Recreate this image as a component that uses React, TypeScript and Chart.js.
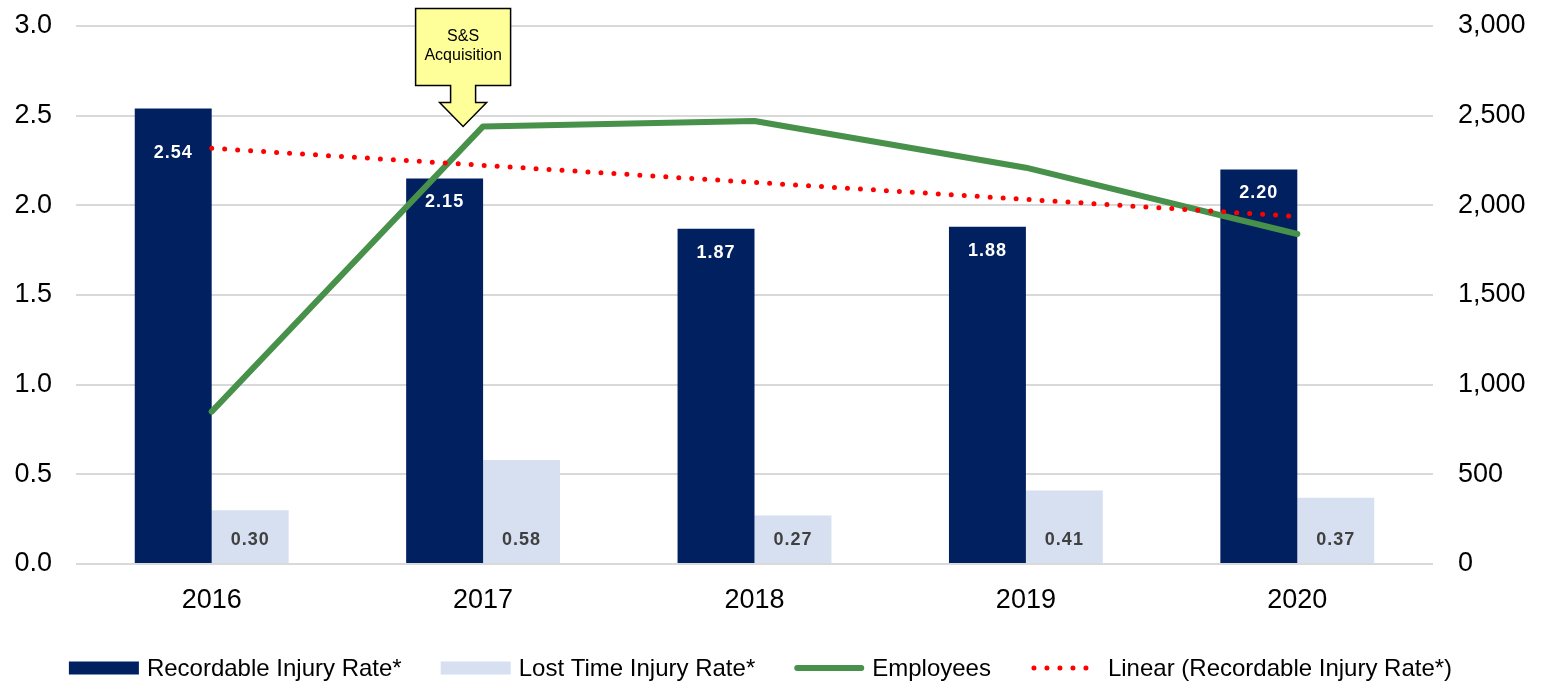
import React, { useEffect, useRef } from "react";
import { Chart, registerables } from "chart.js";

Chart.register(...registerables);

// ---- data ----
const years = ["2016", "2017", "2018", "2019", "2020"];
const recordableRate = [2.54, 2.15, 1.87, 1.88, 2.2];
const lostTimeRate = [0.3, 0.58, 0.27, 0.41, 0.37];
const employees = [850, 2440, 2470, 2210, 1840];
const recordableTrend = [2.318, 2.223, 2.128, 2.033, 1.938];
const calloutLines = ["S&S", "Acquisition"];
const calloutYearIndex = 1;

const FONT = "'Liberation Sans', Arial, Helvetica, sans-serif";
const NAVY = "#002060";
const LIGHT = "#D6E0F0";
const GREEN = "#47914A";
const RED = "#FF0000";

const labelPlugin = {
  id: "barValueLabels",
  afterDatasetsDraw(chart: any) {
    const ctx = chart.ctx;
    ctx.save();
    ctx.font = `bold 18px ${FONT}`;
    try { (ctx as any).letterSpacing = "1px"; } catch (e) {}
    ctx.textAlign = "center";
    ctx.textBaseline = "middle";
    const m0 = chart.getDatasetMeta(0);
    m0.data.forEach((bar: any, i: number) => {
      const dy = i === 0 ? 45 : 24;
      ctx.fillStyle = "#FFFFFF";
      ctx.fillText(recordableRate[i].toFixed(2), bar.x, bar.y + dy);
    });
    const m1 = chart.getDatasetMeta(1);
    m1.data.forEach((bar: any, i: number) => {
      ctx.fillStyle = "#404040";
      ctx.fillText(lostTimeRate[i].toFixed(2), bar.x, bar.base - 23);
    });
    ctx.restore();
  },
};

const calloutPlugin = {
  id: "acquisitionCallout",
  afterDraw(chart: any) {
    const ctx = chart.ctx;
    const tipX = chart.scales.x.getPixelForValue(calloutYearIndex) - 20;
    const tipY = chart.scales.y1.getPixelForValue(employees[calloutYearIndex]);
    const halfW = 47.5;
    const top = tipY - 118;
    const bottom = tipY - 41;
    const shaft = 12.5;
    const head = 23.5;
    const headTop = tipY - 24;
    ctx.save();
    ctx.beginPath();
    ctx.moveTo(tipX - halfW, top);
    ctx.lineTo(tipX + halfW, top);
    ctx.lineTo(tipX + halfW, bottom);
    ctx.lineTo(tipX + shaft, bottom);
    ctx.lineTo(tipX + shaft, headTop);
    ctx.lineTo(tipX + head, headTop);
    ctx.lineTo(tipX, tipY);
    ctx.lineTo(tipX - head, headTop);
    ctx.lineTo(tipX - shaft, headTop);
    ctx.lineTo(tipX - shaft, bottom);
    ctx.lineTo(tipX - halfW, bottom);
    ctx.closePath();
    ctx.fillStyle = "#FFFF99";
    ctx.fill();
    ctx.lineWidth = 1.5;
    ctx.strokeStyle = "#000000";
    ctx.lineJoin = "miter";
    ctx.stroke();
    ctx.fillStyle = "#000000";
    ctx.font = `16px ${FONT}`;
    ctx.textAlign = "center";
    ctx.textBaseline = "middle";
    ctx.fillText(calloutLines[0], tipX, tipY - 90);
    ctx.fillText(calloutLines[1], tipX, tipY - 71);
    ctx.restore();
  },
};

const legendPlugin = {
  id: "bottomLegend",
  afterDraw(chart: any) {
    const ctx = chart.ctx;
    const datasets = chart.data.datasets;
    const boxW = 70;
    const gapText = 8;
    const gapItem = 39;
    ctx.save();
    ctx.font = `24px ${FONT}`;
    ctx.textBaseline = "middle";
    ctx.textAlign = "left";
    const widths = datasets.map((d: any) => boxW + gapText + ctx.measureText(d.label).width);
    const total = widths.reduce((a: number, b: number) => a + b, 0) + gapItem * (datasets.length - 1);
    let x = chart.width / 2 - 10 - total / 2;
    const y = chart.height - 16;
    datasets.forEach((d: any, i: number) => {
      if (d.type === "bar") {
        ctx.fillStyle = d.backgroundColor;
        ctx.fillRect(x, y - 6.5, boxW, 13);
      } else {
        ctx.beginPath();
        ctx.strokeStyle = d.borderColor;
        ctx.lineCap = "round";
        if (d.borderDash && d.borderDash.length) {
          ctx.lineWidth = 5;
          ctx.setLineDash([0, 13]);
          ctx.moveTo(x + 4, y);
          ctx.lineTo(x + boxW - 2, y);
        } else {
          ctx.lineWidth = 6;
          ctx.setLineDash([]);
          ctx.moveTo(x + 3, y);
          ctx.lineTo(x + boxW - 3, y);
        }
        ctx.stroke();
        ctx.setLineDash([]);
      }
      ctx.fillStyle = "#000000";
      ctx.fillText(d.label, x + boxW + gapText, y + 1);
      x += widths[i] + gapItem;
    });
    ctx.restore();
  },
};

export default function App() {
  const canvasRef = useRef<HTMLCanvasElement | null>(null);

  useEffect(() => {
    if (!canvasRef.current) return;
    const chart = new Chart(canvasRef.current, {
      type: "bar",
      data: {
        labels: years,
        datasets: [
          {
            type: "bar",
            label: "Recordable Injury Rate*",
            data: recordableRate,
            backgroundColor: NAVY,
            yAxisID: "y",
            order: 3,
            barPercentage: 1,
            categoryPercentage: 0.567,
          },
          {
            type: "bar",
            label: "Lost Time Injury Rate*",
            data: lostTimeRate,
            backgroundColor: LIGHT,
            yAxisID: "y",
            order: 3,
            barPercentage: 1,
            categoryPercentage: 0.567,
          },
          {
            type: "line",
            label: "Employees",
            data: employees,
            borderColor: GREEN,
            backgroundColor: GREEN,
            borderWidth: 6,
            borderCapStyle: "round",
            borderJoinStyle: "round",
            pointRadius: 0,
            tension: 0,
            yAxisID: "y1",
            order: 1,
          },
          {
            type: "line",
            label: "Linear (Recordable Injury Rate*)",
            data: recordableTrend,
            borderColor: RED,
            backgroundColor: RED,
            borderWidth: 5,
            borderDash: [0, 13],
            borderCapStyle: "round",
            pointRadius: 0,
            tension: 0,
            yAxisID: "y",
            order: 0,
          },
        ],
      } as any,
      options: {
        responsive: false,
        animation: false,
        layout: { padding: { top: 26, left: 0, right: 0, bottom: 69 } },
        plugins: {
          tooltip: { enabled: false },
          legend: { display: false },
        },
        scales: {
          x: {
            grid: { display: false, drawTicks: false },
            border: { display: false },
            ticks: { color: "#000000", font: { size: 27, family: FONT }, padding: 20 },
            afterFit: (scale: any) => {
              scale.height = 51;
              scale.paddingLeft = 0;
              scale.paddingRight = 0;
            },
          },
          y: {
            position: "left",
            min: 0,
            max: 3,
            grid: { color: "#D9D9D9", lineWidth: 2, drawTicks: false },
            border: { display: false },
            ticks: {
              stepSize: 0.5,
              color: "#000000",
              font: { size: 27, family: FONT },
              padding: 24,
              callback: (v: any) => Number(v).toFixed(1),
            },
            afterFit: (scale: any) => {
              scale.width = 76;
              scale.paddingTop = 0;
              scale.paddingBottom = 0;
            },
          },
          y1: {
            position: "right",
            min: 0,
            max: 3000,
            grid: { display: false, drawTicks: false },
            border: { display: false },
            ticks: {
              stepSize: 500,
              color: "#000000",
              font: { size: 27, family: FONT },
              padding: 25,
              callback: (v: any) => Number(v).toLocaleString("en-US"),
            },
            afterFit: (scale: any) => {
              scale.width = 108;
              scale.paddingTop = 0;
              scale.paddingBottom = 0;
            },
          },
        },
      } as any,
      plugins: [labelPlugin, calloutPlugin, legendPlugin],
    });
    return () => chart.destroy();
  }, []);

  return (
    <div style={{ position: "fixed", left: 0, top: 0, width: 1541, height: 684, background: "#fff" }}>
      <canvas ref={canvasRef} width={1541} height={684} style={{ display: "block" }} />
    </div>
  );
}
